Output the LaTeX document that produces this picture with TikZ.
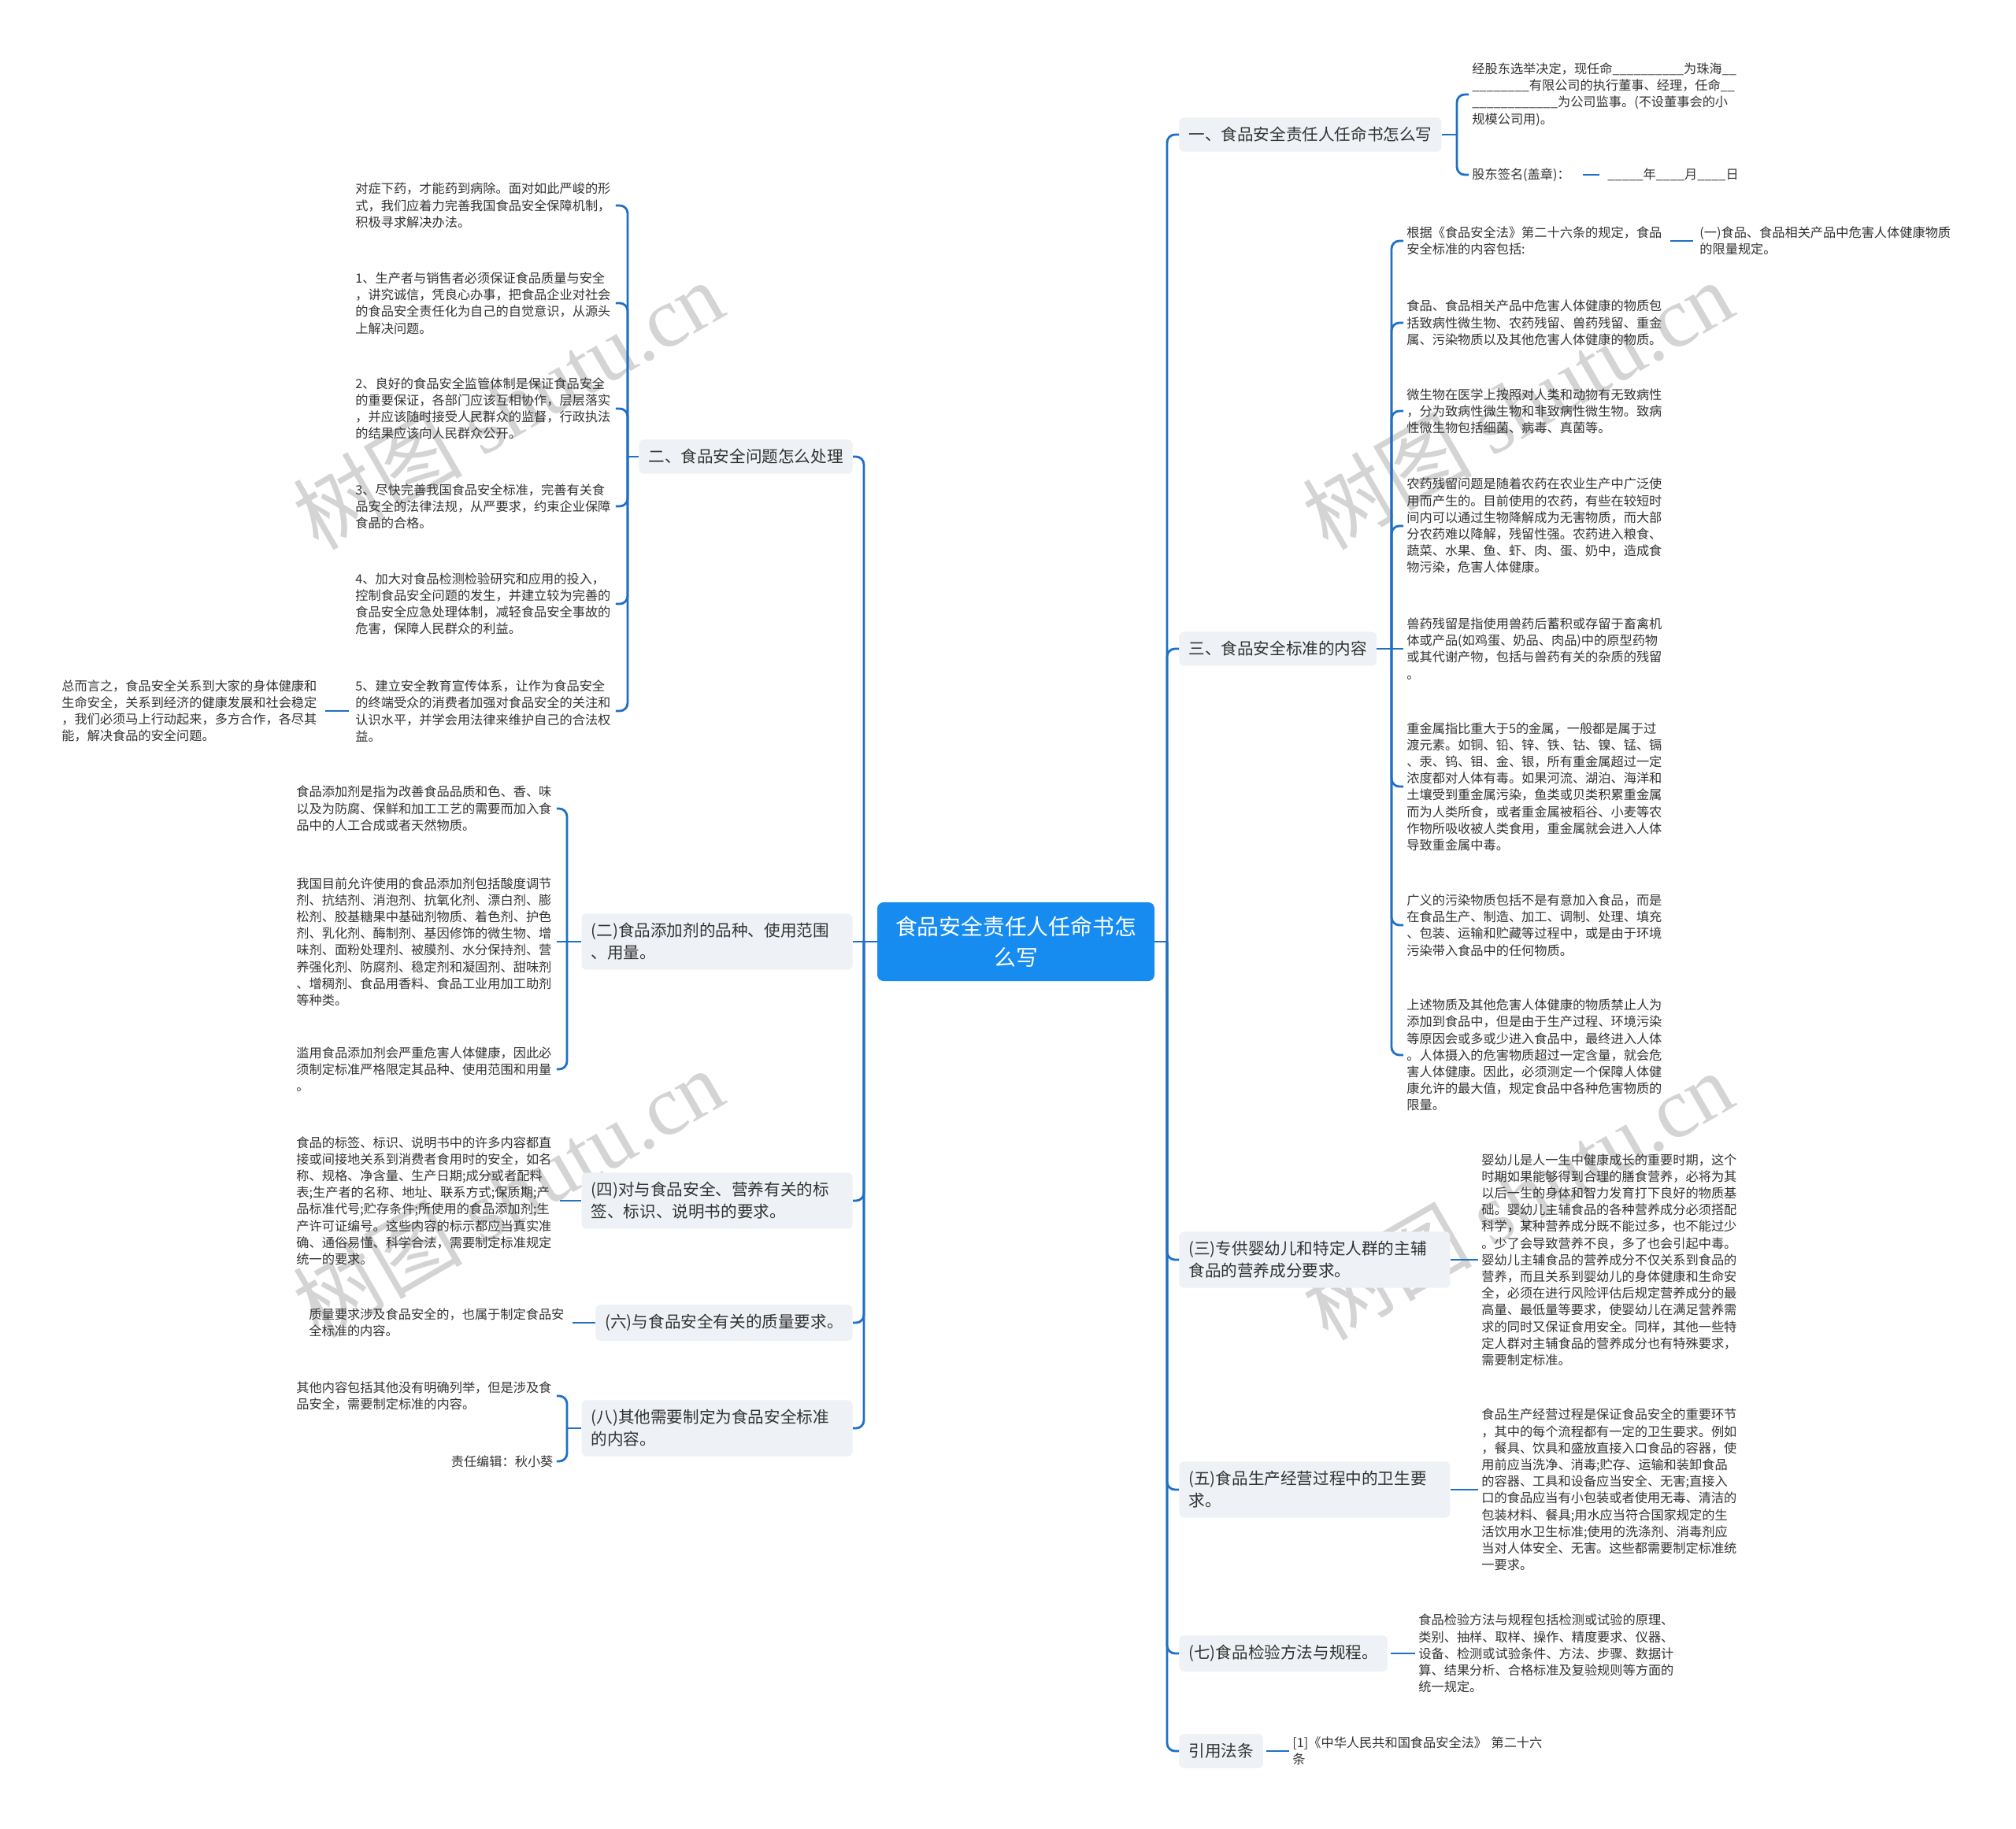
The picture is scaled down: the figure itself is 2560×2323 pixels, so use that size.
\documentclass[tikz,border=0pt]{standalone}
\usepackage{fontspec}
\setmainfont{Noto Sans CJK SC}
\newfontfamily\wmserif{Liberation Serif}
\definecolor{lineblue}{HTML}{1F6FC4}
\definecolor{centerblue}{HTML}{178CF0}
\definecolor{boxgray}{HTML}{EEF1F5}
\definecolor{txt}{HTML}{333333}
\definecolor{wmgray}{HTML}{D4D4D4}
\tikzset{
 conn/.style={draw=lineblue, line width=1.4pt},
 brk/.style={conn, rounded corners=5pt},
 centre/.style={fill=centerblue, text=white, rounded corners=4pt, minimum width=176pt, minimum height=50pt, align=center, font=\fontsize{13.9}{19.5}\selectfont},
 branch/.style={fill=boxgray, rounded corners=3pt, inner xsep=6pt, inner ysep=6pt, minimum height=21pt, align=left, text=txt, font=\fontsize{10.3}{14}\selectfont},
 branchtwo/.style={branch, text width=160pt},
 leaf/.style={inner xsep=2pt, inner ysep=0pt, align=left, text width=163pt, text=txt, font=\fontsize{8.1}{10.6}\selectfont},
 leafr/.style={leaf, align=right},
 leafn/.style={inner xsep=2pt, inner ysep=0pt, text=txt, font=\fontsize{8.1}{10.6}\selectfont},
 wm/.style={text=wmgray, rotate=30, font=\fontsize{54}{54}\selectfont},
}
\begin{document}
\begin{tikzpicture}[x=0.5pt,y=-0.5pt]
\fill[white] (0,0) rectangle (2560,2323);
\useasboundingbox (0,0) rectangle (2560,2323);
% watermarks
\node[wm] (wm1) at (645,514) {树图 {\wmserif shutu.cn}};
\node[wm] (wm2) at (1927,514) {树图 {\wmserif shutu.cn}};
\node[wm] (wm3) at (645,1515) {树图 {\wmserif shutu.cn}};
\node[wm] (wm4) at (1927,1518) {树图 {\wmserif shutu.cn}};

% centre
\node[centre] (c) at (1290,1196) {食品安全责任人任命书怎\\么写};
\coordinate (rs) at (1482,1196);
\coordinate (ls) at (1097,1196);

% right branches
\node[branch, anchor=west] (r1) at (1497,171) {一、食品安全责任人任命书怎么写};
\node[branch, anchor=west] (r3) at (1497,824) {三、食品安全标准的内容};
\node[branchtwo, anchor=west] (r5) at (1497,1600) {(三)专供婴幼儿和特定人群的主辅\\食品的营养成分要求。};
\node[branchtwo, anchor=west] (r6) at (1497,1892) {(五)食品生产经营过程中的卫生要\\求。};
\node[branch, anchor=west] (r7) at (1497,2100) {(七)食品检验方法与规程。};
\node[branch, anchor=west] (r8) at (1497,2224) {引用法条};

% left branches
\node[branch, anchor=east] (l2) at (1083,580) {二、食品安全问题怎么处理};
\node[branchtwo, anchor=east] (l3) at (1083,1196) {(二)食品添加剂的品种、使用范围\\、用量。};
\node[branchtwo, anchor=east] (l4) at (1083,1525) {(四)对与食品安全、营养有关的标\\签、标识、说明书的要求。};
\node[branch, anchor=east] (l6) at (1083,1680) {(六)与食品安全有关的质量要求。};
\node[branchtwo, anchor=east] (l8) at (1083,1814) {(八)其他需要制定为食品安全标准\\的内容。};

% right leaves
\node[leaf, anchor=west] (r1a) at (1865,120) {经股东选举决定，现任命\_\_\_\_\_\_\_\_\_\_为珠海\_\_\\\_\_\_\_\_\_\_\_有限公司的执行董事、经理，任命\_\_\\\_\_\_\_\_\_\_\_\_\_\_\_为公司监事。(不设董事会的小\\规模公司用)。};
\node[leafn, anchor=west] (r1b) at (1865,222) {股东签名(盖章)：};
\node[leafn, anchor=west] (r1c) at (2037,222) {\_\_\_\_\_年\_\_\_\_月\_\_\_\_日};

\node[leaf, anchor=west] (r3a) at (1782,306) {根据《食品安全法》第二十六条的规定，食品\\安全标准的内容包括:};
\node[leaf, anchor=west] (r3a1) at (2154,306) {(一)食品、食品相关产品中危害人体健康物质\\的限量规定。};
\node[leaf, anchor=west] (r3b) at (1782,410) {食品、食品相关产品中危害人体健康的物质包\\括致病性微生物、农药残留、兽药残留、重金\\属、污染物质以及其他危害人体健康的物质。};
\node[leaf, anchor=west] (r3c) at (1782,522) {微生物在医学上按照对人类和动物有无致病性\\，分为致病性微生物和非致病性微生物。致病\\性微生物包括细菌、病毒、真菌等。};
\node[leaf, anchor=west] (r3d) at (1782,668) {农药残留问题是随着农药在农业生产中广泛使\\用而产生的。目前使用的农药，有些在较短时\\间内可以通过生物降解成为无害物质，而大部\\分农药难以降解，残留性强。农药进入粮食、\\蔬菜、水果、鱼、虾、肉、蛋、奶中，造成食\\物污染，危害人体健康。};
\node[leaf, anchor=west] (r3e) at (1782,824) {兽药残留是指使用兽药后蓄积或存留于畜禽机\\体或产品(如鸡蛋、奶品、肉品)中的原型药物\\或其代谢产物，包括与兽药有关的杂质的残留\\。};
\node[leaf, anchor=west] (r3f) at (1782,999) {重金属指比重大于5的金属，一般都是属于过\\渡元素。如铜、铅、锌、铁、钴、镍、锰、镉\\、汞、钨、钼、金、银，所有重金属超过一定\\浓度都对人体有毒。如果河流、湖泊、海洋和\\土壤受到重金属污染，鱼类或贝类积累重金属\\而为人类所食，或者重金属被稻谷、小麦等农\\作物所吸收被人类食用，重金属就会进入人体\\导致重金属中毒。};
\node[leaf, anchor=west] (r3g) at (1782,1175) {广义的污染物质包括不是有意加入食品，而是\\在食品生产、制造、加工、调制、处理、填充\\、包装、运输和贮藏等过程中，或是由于环境\\污染带入食品中的任何物质。};
\node[leaf, anchor=west] (r3h) at (1782,1340) {上述物质及其他危害人体健康的物质禁止人为\\添加到食品中，但是由于生产过程、环境污染\\等原因会或多或少进入食品中，最终进入人体\\。人体摄入的危害物质超过一定含量，就会危\\害人体健康。因此，必须测定一个保障人体健\\康允许的最大值，规定食品中各种危害物质的\\限量。};

\node[leaf, anchor=west] (r5a) at (1877,1600) {婴幼儿是人一生中健康成长的重要时期，这个\\时期如果能够得到合理的膳食营养，必将为其\\以后一生的身体和智力发育打下良好的物质基\\础。婴幼儿主辅食品的各种营养成分必须搭配\\科学，某种营养成分既不能过多，也不能过少\\。少了会导致营养不良，多了也会引起中毒。\\婴幼儿主辅食品的营养成分不仅关系到食品的\\营养，而且关系到婴幼儿的身体健康和生命安\\全，必须在进行风险评估后规定营养成分的最\\高量、最低量等要求，使婴幼儿在满足营养需\\求的同时又保证食用安全。同样，其他一些特\\定人群对主辅食品的营养成分也有特殊要求，\\需要制定标准。};
\node[leaf, anchor=west] (r6a) at (1877,1892) {食品生产经营过程是保证食品安全的重要环节\\，其中的每个流程都有一定的卫生要求。例如\\，餐具、饮具和盛放直接入口食品的容器，使\\用前应当洗净、消毒;贮存、运输和装卸食品\\的容器、工具和设备应当安全、无害;直接入\\口的食品应当有小包装或者使用无毒、清洁的\\包装材料、餐具;用水应当符合国家规定的生\\活饮用水卫生标准;使用的洗涤剂、消毒剂应\\当对人体安全、无害。这些都需要制定标准统\\一要求。};
\node[leaf, anchor=west] (r7a) at (1797,2100) {食品检验方法与规程包括检测或试验的原理、\\类别、抽样、取样、操作、精度要求、仪器、\\设备、检测或试验条件、方法、步骤、数据计\\算、结果分析、合格标准及复验规则等方面的\\统一规定。};
\node[leaf, anchor=west] (r8a) at (1637,2224) {[1]《中华人民共和国食品安全法》 第二十六\\条};

% left leaves
\node[leaf, anchor=west] (l2a) at (447,261) {对症下药，才能药到病除。面对如此严峻的形\\式，我们应着力完善我国食品安全保障机制，\\积极寻求解决办法。};
\node[leaf, anchor=west] (l2b) at (447,385) {1、生产者与销售者必须保证食品质量与安全\\，讲究诚信，凭良心办事，把食品企业对社会\\的食品安全责任化为自己的自觉意识，从源头\\上解决问题。};
\node[leaf, anchor=west] (l2c) at (447,519) {2、良好的食品安全监管体制是保证食品安全\\的重要保证，各部门应该互相协作，层层落实\\，并应该随时接受人民群众的监督，行政执法\\的结果应该向人民群众公开。};
\node[leaf, anchor=west] (l2d) at (447,643) {3、尽快完善我国食品安全标准，完善有关食\\品安全的法律法规，从严要求，约束企业保障\\食品的合格。};
\node[leaf, anchor=west] (l2e) at (447,767) {4、加大对食品检测检验研究和应用的投入，\\控制食品安全问题的发生，并建立较为完善的\\食品安全应急处理体制，减轻食品安全事故的\\危害，保障人民群众的利益。};
\node[leaf, anchor=west] (l2f) at (447,903) {5、建立安全教育宣传体系，让作为食品安全\\的终端受众的消费者加强对食品安全的关注和\\认识水平，并学会用法律来维护自己的合法权\\益。};
\node[leaf, anchor=west] (l2g) at (74,903) {总而言之，食品安全关系到大家的身体健康和\\生命安全，关系到经济的健康发展和社会稳定\\，我们必须马上行动起来，多方合作，各尽其\\能，解决食品的安全问题。};

\node[leaf, anchor=west] (l3a) at (372,1027) {食品添加剂是指为改善食品品质和色、香、味\\以及为防腐、保鲜和加工工艺的需要而加入食\\品中的人工合成或者天然物质。};
\node[leaf, anchor=west] (l3b) at (372,1196) {我国目前允许使用的食品添加剂包括酸度调节\\剂、抗结剂、消泡剂、抗氧化剂、漂白剂、膨\\松剂、胶基糖果中基础剂物质、着色剂、护色\\剂、乳化剂、酶制剂、基因修饰的微生物、增\\味剂、面粉处理剂、被膜剂、水分保持剂、营\\养强化剂、防腐剂、稳定剂和凝固剂、甜味剂\\、增稠剂、食品用香料、食品工业用加工助剂\\等种类。};
\node[leaf, anchor=west] (l3c) at (372,1358) {滥用食品添加剂会严重危害人体健康，因此必\\须制定标准严格限定其品种、使用范围和用量\\。};
\node[leaf, anchor=west] (l4a) at (372,1525) {食品的标签、标识、说明书中的许多内容都直\\接或间接地关系到消费者食用时的安全，如名\\称、规格、净含量、生产日期;成分或者配料\\表;生产者的名称、地址、联系方式;保质期;产\\品标准代号;贮存条件;所使用的食品添加剂;生\\产许可证编号。这些内容的标示都应当真实准\\确、通俗易懂、科学合法，需要制定标准规定\\统一的要求。};
\node[leaf, anchor=west] (l6a) at (388,1680) {质量要求涉及食品安全的，也属于制定食品安\\全标准的内容。};
\node[leaf, anchor=west] (l8a) at (372,1773) {其他内容包括其他没有明确列举，但是涉及食\\品安全，需要制定标准的内容。};
\node[leafr, anchor=west] (l8b) at (372,1856) {责任编辑：秋小葵};

% junctions
\coordinate (j1) at (1850,171);
\coordinate (j3) at (1767,824);
\coordinate (jl2) at (797,580);
\coordinate (jl3) at (720,1196);
\coordinate (jl8) at (720,1814);

% spine connectors
\draw[conn] (c.east) -- (rs);
\foreach \b in {r1,r3,r5,r6,r7,r8} \draw[brk] (rs) |- (\b.west);
\draw[conn] (c.west) -- (ls);
\foreach \b in {l2,l4,l6,l8} \draw[brk] (ls) |- (\b.east);
\draw[conn] (ls) -- (l3.east);

% right leaf connectors
\draw[conn] (r1.east) -- (j1);
\draw[brk] (j1) |- (r1a.west);
\draw[brk] (j1) |- (r1b.west);
\draw[conn, shorten <=6pt, shorten >=3pt] (r1b.east) -- (r1c.west);
\draw[conn] (r3.east) -- (j3);
\foreach \l in {r3a,r3b,r3c,r3d,r3f,r3g,r3h} \draw[brk] (j3) |- (\l.west);
\draw[conn] (j3) -- (r3e.west);
\draw[conn, shorten <=2pt, shorten >=2pt] (r3a.east) -- (r3a1.west);
\draw[conn] (r5.east) -- (r5a.west);
\draw[conn] (r6.east) -- (r6a.west);
\draw[conn, shorten <=2pt] (r7.east) -- (r7a.west);
\draw[conn, shorten <=2pt] (r8.east) -- (r8a.west);

% left leaf connectors
\draw[conn] (l2.west) -- (jl2);
\foreach \l in {l2a,l2b,l2c,l2d,l2e,l2f} \draw[brk] (jl2) |- (\l.east);
\draw[conn, shorten <=2pt, shorten >=2pt] (l2f.west) -- (l2g.east);
\draw[conn] (l3.west) -- (jl3);
\draw[brk] (jl3) |- (l3a.east);
\draw[conn] (jl3) -- (l3b.east);
\draw[brk] (jl3) |- (l3c.east);
\draw[conn, shorten >=2pt] (l4.west) -- (l4a.east);
\draw[conn, shorten >=2pt] (l6.west) -- (l6a.east);
\draw[conn] (l8.west) -- (jl8);
\draw[brk] (jl8) |- (l8a.east);
\draw[brk] (jl8) |- (l8b.east);
\end{tikzpicture}
\end{document}
